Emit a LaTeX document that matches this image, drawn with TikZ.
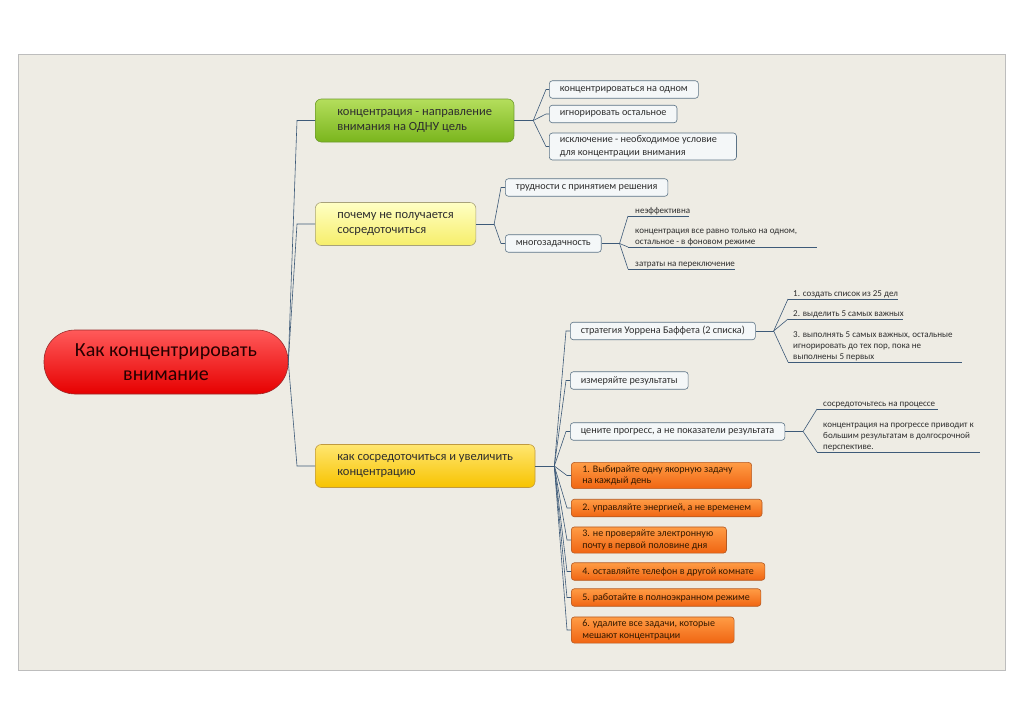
\documentclass[tikz,border=0pt]{standalone}
\usepackage{fontspec}
\setmainfont{Carlito}
\usetikzlibrary{calc}
\definecolor{panelfill}{HTML}{EEECE4}
\definecolor{paneledge}{HTML}{BDBDBD}
\definecolor{linec}{HTML}{3D5A78}
\definecolor{boxfill}{HTML}{F4F7F8}
\definecolor{boxedge}{HTML}{5B7386}
\definecolor{textc}{HTML}{2E2E2E}
\definecolor{greentop}{HTML}{B4DE5C}
\definecolor{greenbot}{HTML}{7AB51D}
\definecolor{greenedge}{HTML}{6E9A2E}
\definecolor{yellowtop}{HTML}{FFFFC4}
\definecolor{yellowbot}{HTML}{F6EE6A}
\definecolor{yellowedge}{HTML}{A8A27A}
\definecolor{goldtop}{HTML}{FFE670}
\definecolor{goldbot}{HTML}{F7C300}
\definecolor{goldedge}{HTML}{C09A40}
\definecolor{orangetop}{HTML}{FF9C45}
\definecolor{orangebot}{HTML}{F06512}
\definecolor{orangeedge}{HTML}{B55A22}
\definecolor{redtop}{HTML}{FF5A5A}
\definecolor{redbot}{HTML}{E60000}
\definecolor{rededge}{HTML}{9A2A2A}
\tikzset{
  conn/.style={draw=linec, line width=0.6pt},
  uline/.style={draw=linec, line width=0.6pt},
  rootnode/.style={draw=rededge, line width=0.6pt, top color=redtop, bottom color=redbot,
    rounded corners=31pt, minimum width=244pt, minimum height=64pt, align=center,
    font=\fontsize{20}{24}\selectfont, text=black!85!red},
  topicbox/.style={line width=0.6pt, rounded corners=6pt, anchor=west, align=left,
    inner xsep=22pt, inner ysep=2pt, minimum height=43pt,
    font=\fontsize{12.5}{15}\selectfont, text=textc},
  leafbox/.style={draw=boxedge, fill=boxfill, line width=0.6pt, rounded corners=3pt, anchor=west,
    align=left, inner xsep=10.5pt, inner ysep=3pt, minimum height=17.5pt,
    font=\fontsize{10.2}{12.3}\selectfont, text=textc},
  orangebox/.style={draw=orangeedge, top color=orangetop, bottom color=orangebot, line width=0.6pt,
    rounded corners=3pt, anchor=west, align=left, inner xsep=11pt, inner ysep=3pt,
    minimum height=17.5pt, font=\fontsize{10}{11.7}\selectfont, text=black!80!orange},
  ulleaf/.style={anchor=south west, align=left, inner ysep=0.8pt,
    font=\fontsize{9}{11}\selectfont, text=textc},
}
\begin{document}
\begin{tikzpicture}[x=1pt,y=-1pt]
\useasboundingbox (0,0) rectangle (1024,724);
\fill[white] (0,0) rectangle (1024,724);
\draw[paneledge, fill=panelfill, line width=0.8pt] (18,54) rectangle (1005,670);

% root
\node[rootnode] (root) at (166,362) {Как концентрировать\\внимание};

% topics
\node[topicbox, draw=greenedge, top color=greentop, bottom color=greenbot] (t1) at (315,120.5)
  {концентрация - направление\\внимания на ОДНУ цель};
\node[topicbox, draw=yellowedge, top color=yellowtop, bottom color=yellowbot] (t2) at (315,224)
  {почему не получается\\сосредоточиться};
\node[topicbox, draw=goldedge, top color=goldtop, bottom color=goldbot] (t3) at (315,466)
  {как сосредоточиться и увеличить\\концентрацию};

\foreach \t in {t1,t2,t3}
  \draw[conn] (root.east) -- ([xshift=-18pt]\t.west) -- (\t.west);

% topic 1 children
\node[leafbox] (c1) at (549,89.5) {концентрироваться на одном};
\node[leafbox] (c2) at (549,114) {игнорировать остальное};
\node[leafbox] (c3) at (549,146.5) {исключение - необходимое условие\hspace*{9pt}\\для концентрации внимания};
\draw[conn] (t1.east) -- ++(19,0) coordinate (f1);
\foreach \c in {c1,c2,c3}
  \draw[conn] (f1) -- ([xshift=-3pt]\c.west) -- (\c.west);

% topic 2 children
\node[leafbox] (s1) at (505,187.5) {трудности с принятием решения};
\node[leafbox] (s2) at (505,243.5) {многозадачность};
\draw[conn] (t2.east) -- ++(18,0) coordinate (f2);
\foreach \c in {s1,s2}
  \draw[conn] (f2) -- ([xshift=-4pt]\c.west) -- (\c.west);

% multitasking leaves
\draw[conn] (s2.east) -- ++(18,0) coordinate (f4);
\node[ulleaf, inner xsep=7pt] (m1) at (628,216) {неэффективна};
\node[ulleaf, inner xsep=7pt] (m2) at (628,247) {концентрация все равно только на одном,\\остальное - в фоновом режиме};
\node[ulleaf, inner xsep=7pt] (m3) at (628,269) {затраты на переключение};
\draw[uline] (m1.south west) -- ++(61,0);
\draw[uline] (m2.south west) -- ++(189,0);
\draw[uline] (m3.south west) -- ++(107,0);
\foreach \m in {m1,m2,m3}
  \draw[conn] (f4) -- (\m.south west);

% topic 3 children
\node[leafbox] (b1) at (570,331) {стратегия Уоррена Баффета (2 списка)};
\node[leafbox] (b2) at (570,380.5) {измеряйте результаты};
\node[leafbox] (b3) at (570,431.5) {цените прогресс, а не показатели результата};
\node[orangebox] (o1) at (571,475.5) {1. Выбирайте одну якорную задачу\hspace*{8pt}\\на каждый день};
\node[orangebox] (o2) at (571,508) {2. управляйте энергией, а не временем};
\node[orangebox] (o3) at (571,540) {3. не проверяйте электронную\\почту в первой половине дня\hspace*{8pt}};
\node[orangebox] (o4) at (571,571.5) {4. оставляйте телефон в другой комнате};
\node[orangebox] (o5) at (571,597.5) {5. работайте в полноэкранном режиме};
\node[orangebox] (o6) at (571,630) {6. удалите все задачи, которые\hspace*{8pt}\\мешают концентрации};
\draw[conn] (t3.east) -- ++(19,0) coordinate (f3);
\foreach \c in {b1,b2,b3,o1,o2,o3,o4,o5,o6}
  \draw[conn] (f3) -- ([xshift=-4pt]\c.west) -- (\c.west);

% Buffett leaves
\draw[conn] (b1.east) -- ++(18,0) coordinate (f5);
\node[ulleaf, inner xsep=5pt] (w1) at (788,299) {1. создать список из 25 дел};
\node[ulleaf, inner xsep=5pt] (w2) at (788,319) {2. выделить 5 самых важных};
\node[ulleaf, inner xsep=5pt] (w3) at (788,362) {3. выполнять 5 самых важных, остальные\\игнорировать до тех пор, пока не\\выполнены 5 первых};
\draw[uline] (w1.south west) -- ++(110,0);
\draw[uline] (w2.south west) -- ++(115,0);
\draw[uline] (w3.south west) -- ++(174,0);
\foreach \m in {w1,w2,w3}
  \draw[conn] (f5) -- (\m.south west);

% progress leaves
\draw[conn] (b3.east) -- ++(18,0) coordinate (f6);
\node[ulleaf, inner xsep=6pt] (p1) at (817,409) {сосредоточьтесь на процессе};
\node[ulleaf, inner xsep=6pt] (p2) at (817,452) {концентрация на прогрессе приводит к\\большим результатам в долгосрочной\\перспективе.};
\draw[uline] (p1.south west) -- ++(121,0);
\draw[uline] (p2.south west) -- ++(163,0);
\foreach \m in {p1,p2}
  \draw[conn] (f6) -- (\m.south west);
\end{tikzpicture}
\end{document}
